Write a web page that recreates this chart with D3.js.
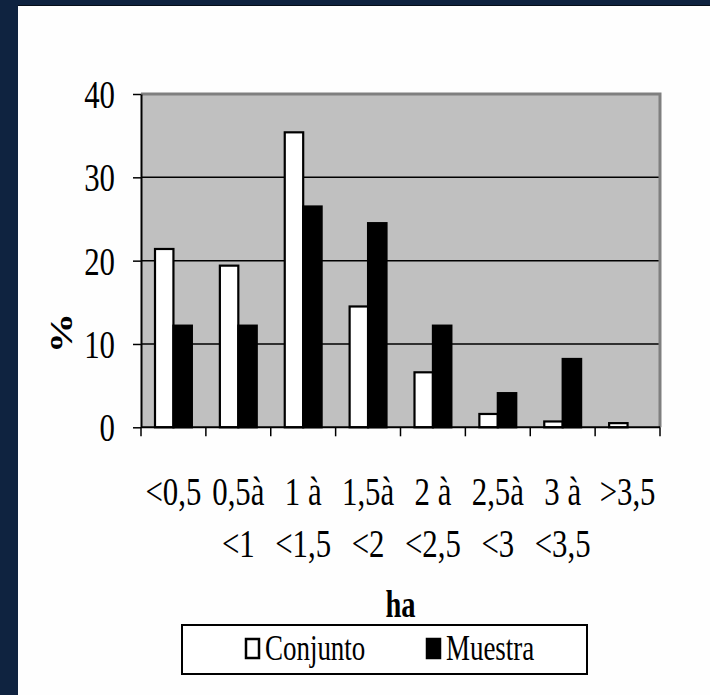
<!DOCTYPE html>
<html>
<head>
<meta charset="utf-8">
<script src="https://cdn.jsdelivr.net/npm/d3@7"></script>
<style>
  html, body { margin: 0; padding: 0; background: #fff; }
  svg { display: block; }
  text { font-family: "Liberation Serif", "Times New Roman", serif; fill: #000; }
</style>
</head>
<body>
<script>
// Farm size classes (ha), two text lines per class
const catLine1 = ["<0,5", "0,5à", "1 à", "1,5à", "2 à", "2,5à", "3 à", ">3,5"];
const catLine2 = ["", "<1", "<1,5", "<2", "<2,5", "<3", "<3,5", ""];
const categories = catLine1.map((d, i) => i);

// Percentage of farms in each class
const conjunto = [21.4, 19.4, 35.4, 14.5, 6.6, 1.6, 0.7, 0.5];
const muestra  = [12.2, 12.2, 26.5, 24.5, 12.2, 4.1, 8.2, 0];

const seriesNames = ["Conjunto", "Muestra"];
const yTicks = [0, 10, 20, 30, 40];

const W = 710, H = 695;
const plot = { left: 141, right: 660, top: 94, bottom: 427.3 };
const SX = 0.77; // horizontal squeeze of the serif lettering

const svg = d3.select("body").append("svg")
  .attr("width", W).attr("height", H);

// Slide frame: navy band at top and left, white panel
svg.append("rect").attr("width", W).attr("height", H).attr("fill", "#0f2340");
svg.append("rect").attr("x", 18).attr("y", 6).attr("width", W - 18).attr("height", H - 6).attr("fill", "#fefefe");
svg.append("line").attr("x1", 18).attr("x2", W).attr("y1", 5.5).attr("y2", 5.5)
  .attr("stroke", "#000").attr("stroke-opacity", 0.6);

const x0 = d3.scaleBand().domain(categories).range([plot.left, plot.right]).paddingInner(0).paddingOuter(0);
const x1 = d3.scaleBand().domain(seriesNames).range([14, x0.bandwidth() - 14]);
const y = d3.scaleLinear().domain([0, 40]).range([plot.bottom, plot.top]);

// Plot background
svg.append("rect")
  .attr("x", plot.left).attr("y", y(40))
  .attr("width", plot.right - plot.left).attr("height", y(0) - y(40))
  .attr("fill", "#c0c0c0");

// Horizontal gridlines
svg.append("g").selectAll("line")
  .data(yTicks.filter(v => v > 0 && v < 40))
  .join("line")
  .attr("x1", plot.left).attr("x2", plot.right)
  .attr("y1", d => y(d)).attr("y2", d => y(d))
  .attr("stroke", "#000").attr("stroke-width", 1.5);

// Grey frame on top and right of the plot area
svg.append("path")
  .attr("d", `M${plot.left},${y(40)}H${plot.right}V${y(0)}`)
  .attr("fill", "none").attr("stroke", "#7f7f7f").attr("stroke-width", 3);

// Bars
const rows = categories.map(i => ({ i, values: [
  { key: "Conjunto", v: conjunto[i] },
  { key: "Muestra", v: muestra[i] }
]}));

svg.append("g").selectAll("g")
  .data(rows)
  .join("g")
  .attr("transform", d => `translate(${x0(d.i)},0)`)
  .selectAll("rect")
  .data(d => d.values.filter(e => e.v > 0))
  .join("rect")
  .attr("x", d => x1(d.key))
  .attr("y", d => y(d.v))
  .attr("width", x1.bandwidth())
  .attr("height", d => y(0) - y(d.v))
  .attr("fill", d => d.key === "Conjunto" ? "#fff" : "#000")
  .attr("stroke", "#000")
  .attr("stroke-width", 2.2);

// Y axis
const yAxis = svg.append("g")
  .attr("transform", `translate(${plot.left},0)`)
  .call(d3.axisLeft(y).tickValues(yTicks).tickSize(8).tickSizeOuter(0).tickFormat(d3.format("d")));
yAxis.select(".domain").attr("stroke", "#000").attr("stroke-width", 2);
yAxis.selectAll(".tick line").attr("stroke", "#000").attr("stroke-width", 1.5);
yAxis.selectAll(".tick text")
  .attr("font-family", "Liberation Serif, serif")
  .attr("font-size", 40)
  .attr("text-anchor", "end")
  .attr("x", -26 / SX)
  .attr("dy", "0.34em")
  .attr("transform", `scale(${SX},1)`);

// X axis line and boundary ticks
svg.append("line")
  .attr("x1", plot.left).attr("x2", plot.right)
  .attr("y1", y(0)).attr("y2", y(0))
  .attr("stroke", "#000").attr("stroke-width", 2);
const bounds = categories.map(c => x0(c)).concat([plot.right]);
svg.append("g").selectAll("line")
  .data(bounds)
  .join("line")
  .attr("x1", d => d).attr("x2", d => d)
  .attr("y1", y(0)).attr("y2", y(0) + 9)
  .attr("stroke", "#000").attr("stroke-width", 1.5);

// Category labels
const catLabels = svg.append("g").selectAll("text")
  .data(categories)
  .join("text")
  .attr("transform", c => `translate(${x0(c) + x0.bandwidth() / 2},505) scale(${SX},1)`)
  .attr("text-anchor", "middle")
  .attr("font-size", 40);
catLabels.append("tspan").attr("x", 0).attr("y", 0).text(c => catLine1[c]);
catLabels.append("tspan").attr("x", 0).attr("y", 52).text(c => catLine2[c]);

// Axis titles
svg.append("text")
  .attr("transform", `translate(${(plot.left + plot.right) / 2},617) scale(${SX},1)`)
  .attr("text-anchor", "middle")
  .attr("font-size", 37).attr("font-weight", "bold")
  .text("ha");

svg.append("text")
  .attr("transform", `translate(72,333) scale(${SX},1) rotate(-90)`)
  .attr("text-anchor", "middle")
  .attr("font-size", 40).attr("font-weight", "bold")
  .text("%");

// Legend
const legend = svg.append("g");
legend.append("rect")
  .attr("x", 182).attr("y", 625).attr("width", 405).attr("height", 49)
  .attr("fill", "#fff").attr("stroke", "#000").attr("stroke-width", 2);
const legendItems = [
  { key: "Conjunto", fill: "#fff", x: 245 },
  { key: "Muestra", fill: "#000", x: 426 }
];
const li = legend.selectAll("g.item").data(legendItems).join("g").attr("class", "item");
li.append("rect")
  .attr("x", d => d.x + 1).attr("y", 639)
  .attr("width", 13).attr("height", 19)
  .attr("fill", d => d.fill).attr("stroke", "#000").attr("stroke-width", 2.5);
li.append("text")
  .attr("transform", d => `translate(${d.x + 20},660) scale(${SX},1)`)
  .attr("font-size", 35)
  .text(d => d.key);
</script>
</body>
</html>
